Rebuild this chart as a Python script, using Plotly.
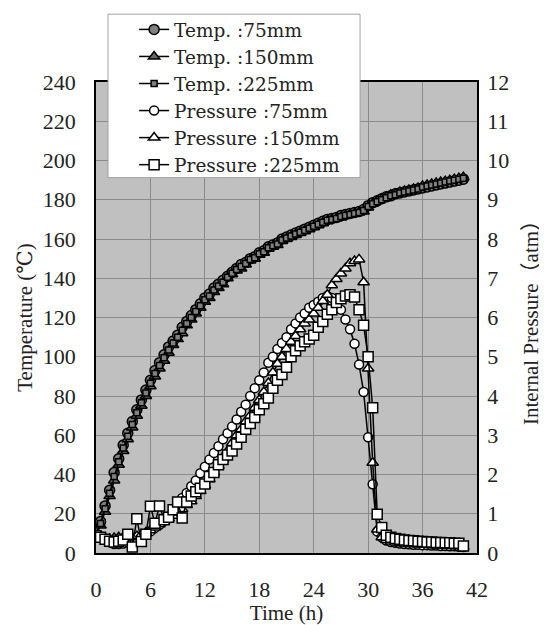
import plotly.graph_objects as go

# ————————————————
# data (time in h, temperature in degC, pressure in atm)
TIME_H = [0, 0.5, 1, 1.5, 2, 2.5, 3, 3.5, 4, 4.5,
          5, 5.5, 6, 6.5, 7, 7.5, 8, 8.5, 9, 9.5,
          10, 10.5, 11, 11.5, 12, 12.5, 13, 13.5, 14, 14.5,
          15, 15.5, 16, 16.5, 17, 17.5, 18, 18.5, 19, 19.5,
          20, 20.5, 21, 21.5, 22, 22.5, 23, 23.5, 24, 24.5,
          25, 25.5, 26, 26.5, 27, 27.5, 28, 28.5, 29, 29.5,
          30, 30.5, 31, 31.5, 32, 32.5, 33, 33.5, 34, 34.5,
          35, 35.5, 36, 36.5, 37, 37.5, 38, 38.5, 39, 39.5,
          40, 40.5]

TEMP_75 = [9, 16, 24, 32, 41, 48, 55, 61, 67, 73,
           78, 83, 88, 93, 97, 101, 105, 108, 111, 115,
           118, 121, 124, 127, 130, 132, 135, 137, 139, 141,
           143, 145, 147, 148, 150, 151, 153, 154, 156, 157,
           158, 160, 161, 162, 163, 164, 165, 166, 167, 168,
           169, 170, 170.5, 171, 172, 172.5, 173, 173.5, 174, 175,
           177, 178.5, 179.5, 180.5, 181.5, 182, 183, 183.5, 184, 184.5,
           185, 185.5, 186, 186.5, 187, 187.5, 188, 188.5, 189, 189.5,
           190, 190.5]

TEMP_150 = [8, 14, 21, 29, 37, 45, 52, 58, 64, 70,
            75, 80, 85, 90, 94, 98, 102, 106, 109, 112,
            116, 119, 122, 125, 128, 130, 133, 135, 137, 140,
            142, 144, 145, 147, 149, 150, 152, 153, 155, 156,
            157, 159, 160, 161, 162, 163, 164, 165, 166, 167,
            168, 169, 170, 170.5, 171, 172, 172.5, 173, 173.5, 174,
            176, 178, 179.5, 180.5, 181.5, 182.5, 183, 184, 184.5, 185,
            185.5, 186, 187, 187.5, 188, 188.5, 189, 189.5, 190, 190.5,
            191, 191.5]

TEMP_225 = [8.5, 15, 22.5, 30.5, 39, 46.5, 53.5, 59.5, 65.5, 71.5,
            76.5, 81.5, 86.5, 91.5, 95.5, 99.5, 103.5, 107, 110, 113.5,
            117, 120, 123, 126, 129, 131, 134, 136, 138, 140.5,
            142.5, 144.5, 146, 147.5, 149.5, 150.5, 152.5, 153.5, 155.5, 156.5,
            157.5, 159.5, 160.5, 161.5, 162.5, 163.5, 164.5, 165.5, 166.5, 167.5,
            168.5, 169.5, 170, 170.5, 171.5, 172, 172.5, 173, 173.5, 174.5,
            176.5, 178, 179, 180, 181, 182, 182.5, 183.5, 184, 184.5,
            185, 185.5, 186.5, 187, 187.5, 188, 188.5, 189, 189.5, 190,
            190.5, 191]

PRES_75 = [0.44, 0.42, 0.35, 0.28, 0.23, 0.23, 0.24, 0.27, 0.30, 0.33,
           0.39, 0.47, 0.55, 0.64, 0.72, 0.82, 0.93, 1.05, 1.22, 1.40,
           1.53, 1.70, 1.85, 2.03, 2.20, 2.38, 2.55, 2.72, 2.90, 3.05,
           3.22, 3.40, 3.60, 3.78, 4.00, 4.20, 4.40, 4.60, 4.85, 5.00,
           5.20, 5.35, 5.50, 5.70, 5.85, 6.00, 6.10, 6.25, 6.32, 6.40,
           6.50, 6.55, 6.50, 6.40, 6.20, 5.95, 5.70, 5.33, 4.80, 4.10,
           2.95, 1.75, 0.55, 0.40, 0.32, 0.28, 0.26, 0.24, 0.23, 0.22,
           0.21, 0.21, 0.20, 0.20, 0.19, 0.19, 0.18, 0.18, 0.17, 0.17,
           0.16, 0.15]

PRES_150 = [0.44, 0.40, 0.38, 0.36, 0.38, 0.40, 0.40, 0.40, 0.40, 0.43,
            0.47, 0.52, 0.58, 0.65, 0.73, 0.80, 0.88, 0.95, 1.03, 1.12,
            1.22, 1.32, 1.45, 1.58, 1.72, 1.88, 2.05, 2.22, 2.40, 2.60,
            2.80, 3.00, 3.15, 3.35, 3.50, 3.70, 3.90, 4.10, 4.33, 4.60,
            4.82, 5.00, 5.20, 5.38, 5.53, 5.70, 5.85, 5.95, 6.10, 6.25,
            6.42, 6.58, 6.82, 6.98, 7.12, 7.25, 7.38, 7.44, 7.48, 6.90,
            4.70, 2.30, 0.60, 0.40, 0.33, 0.29, 0.27, 0.25, 0.24, 0.23,
            0.22, 0.22, 0.21, 0.21, 0.20, 0.20, 0.19, 0.19, 0.18, 0.18,
            0.17, 0.16]

PRES_225 = [0.44, 0.40, 0.35, 0.30, 0.28, 0.30, 0.33, 0.48, 0.15, 0.87,
            0.29, 0.48, 1.19, 0.76, 1.20, 0.85, 0.91, 1.10, 1.30, 0.89,
            1.30, 1.45, 1.56, 1.65, 1.76, 1.95, 2.05, 2.25, 2.38, 2.50,
            2.60, 2.78, 2.95, 3.15, 3.30, 3.45, 3.65, 3.80, 3.95, 4.20,
            4.40, 4.55, 4.73, 5.00, 5.15, 5.28, 5.38, 5.45, 5.55, 5.75,
            5.90, 6.08, 6.20, 6.38, 6.48, 6.55, 6.58, 6.52, 6.20, 5.80,
            5.00, 3.70, 0.99, 0.65, 0.45, 0.40, 0.37, 0.35, 0.33, 0.32,
            0.31, 0.30, 0.29, 0.28, 0.28, 0.27, 0.27, 0.26, 0.26, 0.25,
            0.25, 0.18]

X_TICKS = [0, 6, 12, 18, 24, 30, 36, 42]
Y_TICKS = [0, 20, 40, 60, 80, 100, 120, 140, 160, 180, 200, 220, 240]
Y2_TICKS = [0, 1, 2, 3, 4, 5, 6, 7, 8, 9, 10, 11, 12]

FONT = "Liberation Serif, DejaVu Serif, Noto Sans CJK JP, serif"
LEGEND_FONT = "DejaVu Serif, Liberation Serif, serif"
CLEAR = "rgba(0,0,0,0)"


# ————————————————
def add_series(fig, y, name, symbol, fill, size, axis):
    fig.add_trace(go.Scatter(
        x=TIME_H, y=y, name=name, yaxis=axis,
        mode="lines+markers",
        line=dict(color="black", width=1.5),
        marker=dict(symbol=symbol, size=size, color=fill,
                    line=dict(color="black", width=1.5)),
    ))


def build_figure():
    fig = go.Figure()
    add_series(fig, TEMP_75, "Temp. :75mm", "circle", "#808080", 10, "y")
    add_series(fig, TEMP_150, "Temp. :150mm", "triangle-up", "#666666", 10, "y")
    add_series(fig, TEMP_225, "Temp. :225mm", "square", "#808080", 6, "y")
    add_series(fig, PRES_75, "Pressure :75mm", "circle", "white", 9, "y2")
    add_series(fig, PRES_150, "Pressure :150mm", "triangle-up", "white", 10, "y2")
    add_series(fig, PRES_225, "Pressure :225mm", "square", "white", 10, "y2")

    # page has an 8px body margin, so the figure is shifted by 8px
    fig.update_layout(
        width=539, height=617,
        margin=dict(l=88, r=70, t=74, b=72, autoexpand=False),
        paper_bgcolor="white", plot_bgcolor="#c0c0c0",
        font=dict(family=FONT, size=22, color="#222222"),
        xaxis=dict(
            range=[0, 42], tickvals=X_TICKS, showgrid=True,
            gridcolor="#8a8a8a", gridwidth=1, zeroline=False,
            showline=True, linecolor="black", linewidth=1.5, mirror=True,
            ticks="outside", ticklen=16, tickcolor=CLEAR, automargin=False,
            title=dict(text="Time (h)", standoff=0, font=dict(size=21)),
        ),
        yaxis=dict(
            range=[0, 240], tickvals=Y_TICKS, showgrid=True,
            gridcolor="#8a8a8a", gridwidth=1, zeroline=False,
            showline=True, linecolor="black", linewidth=1.5,
            ticks="outside", ticklen=14, tickcolor=CLEAR, automargin=False,
            title=dict(text="Temperature (℃)", standoff=4, font=dict(size=21)),
        ),
        yaxis2=dict(
            range=[0, 12], tickvals=Y2_TICKS, overlaying="y", side="right",
            showgrid=False, zeroline=False, showline=True,
            linecolor="black", linewidth=1.5,
            ticks="outside", ticklen=4, tickcolor=CLEAR, automargin=False,
            title=dict(text="Internal Pressure（atm）", standoff=15, font=dict(size=21)),
        ),
        legend=dict(
            x=0.10, y=1.151, xanchor="left", yanchor="top",
            bgcolor=CLEAR, borderwidth=0,
            font=dict(family=LEGEND_FONT, size=18.5, color="#222222"),
            tracegroupgap=0,
        ),
        # visible legend frame
        shapes=[dict(
            type="rect", xref="paper", yref="paper",
            x0=0.0315, x1=0.693, y0=0.797, y1=1.144,
            fillcolor="white", line=dict(color="#a0a0a0", width=1),
            layer="above",
        )],
        showlegend=True,
    )
    return fig


def main():
    fig = build_figure()
    fig.write_html("out.html")


if __name__ == "__main__":
    main()
